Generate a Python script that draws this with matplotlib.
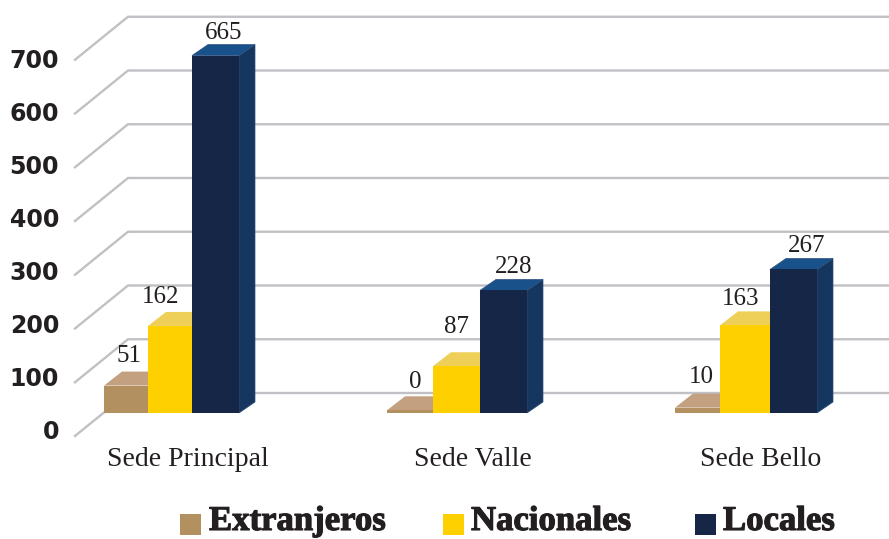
import matplotlib
matplotlib.use("Agg")
import matplotlib.pyplot as plt
import matplotlib.patheffects as pe
from matplotlib.patches import Polygon, Rectangle

# data
categories = ["Sede Principal", "Sede Valle", "Sede Bello"]
series_names = ["Extranjeros", "Nacionales", "Locales"]
extranjeros = [51, 0, 10]
nacionales = [162, 87, 163]
locales = [665, 228, 267]
y_ticks = [0, 100, 200, 300, 400, 500, 600, 700]

# layout, in pixels of the 889x539 picture
W, H = 889, 539
BASE_Y = 413          # pixel row of value 0 on the bar fronts
PX_PER_UNIT = 0.5375
BAR_EDGES = [[104, 148, 192, 239], [387, 433, 480, 527], [675, 720, 770, 817]]
DEPTH = [(18, 14), (18, 14), (16, 11)]
# hand placed value labels, group by series
LABEL_DX = [[-6, -18, 0], [-4, -9, 2], [-5, -13, 5]]
LABEL_DY = [[16, 15, 12], [14, 25, 12], [17, 12, 12]]
CAT_X = [188, 473, 761]

FRONT = ["#b39060", "#ffd000", "#152646"]
TOP = ["#c3a080", "#eed058", "#19528a"]
SIDE = ["#b39060", "#ffd000", "#15365e"]
EDGE = ["none", "none", "#2f4f7d"]
GRID = "#c1c1c5"
INK = "#231f20"
LABEL_FONT = "Liberation Serif"


def units(px):
    return px / PX_PER_UNIT


def draw_grid(ax):
    for v in y_ticks:
        back = v + units(20)
        front = v - units(23)
        ax.plot([75, 128, W], [front, back, back], color=GRID, lw=1.7,
                solid_joinstyle="miter", zorder=1)
        # the labels run a little tighter than the grid
        ax.text(59, v * 0.986 - units(19), str(v), ha="right", va="center",
                fontsize=17, fontweight="bold", color=INK,
                family="DejaVu Sans")


def draw_bar(ax, left, right, value, i):
    dx, dy = DEPTH[i]
    dy = units(dy)
    # a zero bar still shows as a thin plate in the reference
    top = max(value, 5)
    ax.add_patch(Polygon([(right, 0), (right + dx, dy), (right + dx, top + dy), (right, top)],
                         facecolor=SIDE[i], edgecolor=EDGE[i], lw=0.5, zorder=3))
    ax.add_patch(Polygon([(left, top), (left + dx, top + dy), (right + dx, top + dy), (right, top)],
                         facecolor=TOP[i], edgecolor=EDGE[i], lw=0.5, zorder=3))
    ax.add_patch(Rectangle((left, 0), right - left, top,
                           facecolor=FRONT[i], edgecolor="none", zorder=3))
    return top + dy


def main():
    fig = plt.figure(figsize=(W / 100, H / 100), dpi=100)
    ax = fig.add_axes([0, 0, 1, 1])
    ax.set_xlim(0, W)
    ax.set_ylim(units(BASE_Y - H), units(BASE_Y))
    ax.axis("off")

    draw_grid(ax)

    values = [extranjeros, nacionales, locales]
    for g, edges in enumerate(BAR_EDGES):
        for i in range(3):
            left, right = edges[i], edges[i + 1]
            top = draw_bar(ax, left, right, values[i][g], i)
            cx = (left + right) / 2 + DEPTH[i][0] / 2 + LABEL_DX[g][i]
            ax.text(cx, top + units(LABEL_DY[g][i]), str(values[i][g]), ha="center",
                    va="center", fontsize=18, color=INK, family=LABEL_FONT, zorder=5)
        ax.text(CAT_X[g], units(BASE_Y - 459), categories[g], ha="center", va="center",
                fontsize=20, color=INK, family=LABEL_FONT)

    # legend
    for name, color, box_x, text_x in zip(series_names, FRONT, [180, 443, 695], [209, 471, 723]):
        fig.add_artist(Rectangle((box_x / W, 1 - 535 / H), 21 / W, 21 / H,
                                 transform=fig.transFigure, facecolor=color, edgecolor="none"))
        t = fig.text(text_x / W, 1 - 530 / H, name, ha="left", va="baseline",
                     fontsize=25, fontweight="bold", color=INK, family=LABEL_FONT)
        t.set_path_effects([pe.withStroke(linewidth=0.8, foreground=INK)])

    fig.savefig("out.png", dpi=100)


if __name__ == "__main__":
    main()
